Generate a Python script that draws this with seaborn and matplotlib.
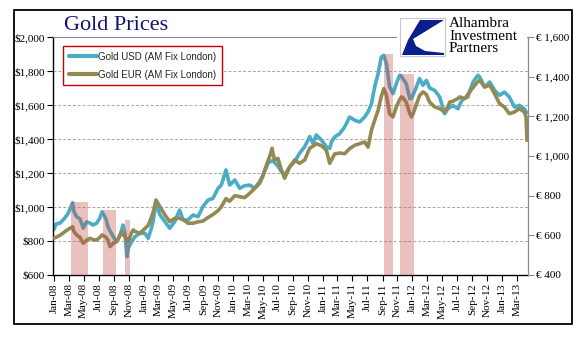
import matplotlib
matplotlib.use('Agg')
import matplotlib.pyplot as plt
import matplotlib.dates as mdates
from matplotlib.lines import Line2D
from matplotlib.patches import Rectangle, Polygon
from matplotlib.ticker import FuncFormatter
import pandas as pd
import seaborn as sns

# ---------------- data ----------------
dates = [
    '2008-01-02', '2008-01-09', '2008-01-25', '2008-02-11', '2008-02-27', '2008-03-17', '2008-03-22',
    '2008-04-02', '2008-04-16', '2008-04-29', '2008-05-13', '2008-05-27', '2008-06-08', '2008-06-23',
    '2008-07-06', '2008-07-15', '2008-07-31', '2008-08-08', '2008-08-16', '2008-08-30', '2008-09-12',
    '2008-09-22', '2008-10-03', '2008-10-08', '2008-10-16', '2008-10-24', '2008-10-30', '2008-11-13',
    '2008-11-19', '2008-11-26', '2008-12-16',
    '2009-01-06', '2009-01-19', '2009-02-02', '2009-02-09', '2009-02-20', '2009-03-08', '2009-03-28',
    '2009-04-17', '2009-05-07', '2009-05-27', '2009-06-10', '2009-06-30', '2009-07-21', '2009-08-10',
    '2009-08-30', '2009-09-20', '2009-10-10', '2009-10-31', '2009-11-13', '2009-12-02', '2009-12-17',
    '2010-01-07', '2010-01-27', '2010-02-16', '2010-03-09', '2010-03-29', '2010-04-18', '2010-05-02',
    '2010-05-09', '2010-05-22', '2010-05-29', '2010-06-08', '2010-06-12', '2010-06-19', '2010-07-02',
    '2010-07-16', '2010-07-29', '2010-08-19', '2010-09-08', '2010-09-28', '2010-10-19', '2010-11-08',
    '2010-11-22', '2010-12-05', '2010-12-26',
    '2011-01-15', '2011-01-29', '2011-02-05', '2011-02-18', '2011-03-10', '2011-03-31', '2011-04-20',
    '2011-05-11', '2011-05-31', '2011-06-20', '2011-07-04', '2011-07-18', '2011-07-31', '2011-08-14',
    '2011-08-20', '2011-08-27', '2011-09-06', '2011-09-17', '2011-09-30', '2011-10-14', '2011-10-27',
    '2011-11-10', '2011-11-17', '2011-11-23', '2011-12-07', '2011-12-21', '2011-12-28',
    '2012-01-03', '2012-01-17', '2012-01-30', '2012-02-13', '2012-02-27', '2012-03-11', '2012-04-01',
    '2012-04-21', '2012-05-11', '2012-05-25', '2012-06-01', '2012-06-14', '2012-06-21', '2012-07-05',
    '2012-07-11', '2012-07-25', '2012-08-01', '2012-08-14', '2012-08-21', '2012-09-04', '2012-09-11',
    '2012-09-24', '2012-10-01', '2012-10-08', '2012-10-21', '2012-11-11', '2012-12-01', '2012-12-21',
    '2013-01-10', '2013-01-30', '2013-02-20', '2013-03-12', '2013-04-01', '2013-04-08', '2013-04-12',
]

gold_usd = [
    870, 900, 905, 930, 960, 1025, 975, 943, 930, 876, 913, 905, 894, 905, 935, 972, 930, 884, 860, 825,
    796, 820, 865, 894, 850, 708, 760, 796, 810, 825, 845,
    845, 816, 880, 924, 1022, 953, 914, 875, 914, 982, 924, 924, 953, 943, 1002, 1041, 1051, 1110, 1129,
    1218, 1129,
    1159, 1110, 1125, 1129, 1110, 1149, 1188, 1210, 1257, 1265, 1270, 1276, 1260, 1240, 1208, 1188, 1237,
    1267, 1316, 1355, 1414, 1375, 1424, 1394,
    1355, 1345, 1384, 1412, 1431, 1471, 1529, 1510, 1500, 1529, 1559, 1608, 1706, 1784, 1830, 1882, 1892,
    1843, 1706, 1667, 1725, 1775, 1770, 1755, 1725, 1637, 1640,
    1657, 1706, 1755, 1716, 1745, 1700, 1686, 1647, 1549, 1578, 1585, 1598, 1590, 1578, 1600, 1637, 1640,
    1647, 1680, 1735, 1750, 1775, 1765, 1745, 1706, 1735, 1686, 1657,
    1676, 1647, 1588, 1598, 1578, 1559, 1555,
]

gold_eur = [
    586, 590, 600, 615, 630, 643, 620, 602, 590, 560, 575, 585, 578, 576, 590, 602, 590, 575, 543, 560,
    568, 590, 618, 605, 593, 580, 568, 615, 627, 620, 610,
    635, 650, 694, 720, 778, 744, 703, 669, 686, 686, 680, 661, 661, 668, 672, 690, 705, 725, 744, 785, 772,
    800, 795, 790, 812, 837, 862, 900, 929, 975, 997, 1039, 1010, 980, 988, 929, 888, 946, 980, 963, 980,
    1039, 1050, 1062, 1052,
    1030, 963, 980, 1010, 1015, 1012, 1037, 1054, 1062, 1071, 1045, 1130, 1180, 1230, 1264, 1300, 1340,
    1306, 1213, 1197, 1247, 1285, 1298, 1295, 1270, 1215, 1197,
    1210, 1260, 1305, 1323, 1310, 1272, 1247, 1239, 1222, 1250, 1272, 1276, 1281, 1290, 1298, 1292, 1289,
    1310, 1323, 1345, 1357, 1375, 1382, 1370, 1348, 1357, 1314, 1264,
    1247, 1213, 1222, 1239, 1222, 1197, 1079,
]

shade_start = ['2008-03-10', '2008-07-19', '2008-10-16', '2011-09-06', '2011-11-10']
shade_end = ['2008-05-19', '2008-09-10', '2008-11-06', '2011-10-12', '2012-01-06']
shade_top_usd = [1030, 982, 924, 1898, 1784]

usd_ticks = [600, 800, 1000, 1200, 1400, 1600, 1800, 2000]
eur_ticks = [400, 600, 800, 1000, 1200, 1400, 1600]
label_usd = 'Gold USD (AM Fix London)'
label_eur = 'Gold EUR (AM Fix London)'
title = 'Gold Prices'
logo_text = 'Alhambra\nInvestment\nPartners'

# ---------------- styling ----------------
sns.set_theme(style='white')
plt.rcParams['font.family'] = ['Liberation Serif', 'DejaVu Serif']

C_USD = '#4BACC6'
C_EUR = '#938953'
C_SHADE = '#C0504D'

W, H = 577, 341
fig = plt.figure(figsize=(W / 100, H / 100), dpi=100)
fig.patch.set_facecolor('white')


def fx(px):
    return px / W


def fy(py):
    return 1 - py / H


ax = fig.add_axes([fx(53), fy(275), fx(528) - fx(53), fy(37) - fy(275)])

df = pd.DataFrame({'date': pd.to_datetime(dates), 'usd': gold_usd, 'eur': gold_eur})

sns.lineplot(data=df, x='date', y='usd', ax=ax, color=C_USD, linewidth=2.6, legend=False)
ax2 = ax.twinx()
sns.lineplot(data=df, x='date', y='eur', ax=ax2, color=C_EUR, linewidth=2.6, legend=False)
ax3 = ax.twinx()
for s, e, t in zip(shade_start, shade_end, shade_top_usd):
    s0 = mdates.date2num(pd.Timestamp(s))
    e0 = mdates.date2num(pd.Timestamp(e))
    ax3.bar(s0, t - usd_ticks[0], width=e0 - s0, bottom=usd_ticks[0], align='edge',
            color=C_SHADE, alpha=0.35, linewidth=0)

xmin = mdates.date2num(pd.Timestamp('2007-12-28'))
xmax = mdates.date2num(pd.Timestamp('2013-04-16'))
for a in (ax, ax2, ax3):
    a.set_xlim(xmin, xmax)
    a.set_xlabel('')
    a.set_ylabel('')

ax.set_ylim(usd_ticks[0], usd_ticks[-1])
ax3.set_ylim(usd_ticks[0], usd_ticks[-1])
ax2.set_ylim(eur_ticks[0], eur_ticks[-1])
ax3.axis('off')

ax.set_yticks(usd_ticks)
ax.yaxis.set_major_formatter(FuncFormatter(lambda v, p: '${:,.0f}'.format(v)))
ax2.set_yticks(eur_ticks)
ax2.yaxis.set_major_formatter(FuncFormatter(lambda v, p: '\u20ac {:,.0f}'.format(v)))

months = pd.date_range('2008-01-01', '2013-03-01', freq='2MS')
ax.set_xticks(mdates.date2num(months))
ax.set_xticklabels([m.strftime('%b-%y') for m in months], rotation=90)

ax.yaxis.grid(True, linestyle=(0, (3, 2)), color='#A6A6A6', linewidth=0.7)
ax.xaxis.grid(False)
ax.set_axisbelow(True)

for sp in ax.spines.values():
    sp.set_visible(True)
ax.spines['left'].set_color('black')
ax.spines['left'].set_linewidth(1.0)
ax.spines['bottom'].set_color('black')
ax.spines['bottom'].set_linewidth(1.0)
ax.spines['top'].set_color('#8C8C8C')
ax.spines['top'].set_linewidth(0.8)
ax.spines['right'].set_visible(False)
for k in ('left', 'top', 'bottom'):
    ax2.spines[k].set_visible(False)
ax2.spines['right'].set_visible(True)
ax2.spines['right'].set_color('#8C8C8C')
ax2.spines['right'].set_linewidth(0.9)

ax.tick_params(axis='x', bottom=True, direction='out', length=4, width=0.8, color='black',
               labelsize=8, labelcolor='black', pad=2)
ax.tick_params(axis='y', left=True, direction='out', length=4, width=0.8, color='black',
               labelsize=8, labelcolor='black', pad=2)
ax2.tick_params(axis='y', right=True, direction='out', length=4, width=0.8, color='#8C8C8C',
                labelsize=8, labelcolor='black', pad=2)

# title
fig.text(fx(64), fy(26), title, fontsize=16, color='#12126E', ha='left', va='center',
         family=['Liberation Serif'])

# legend
handles = [Line2D([], [], color=C_USD, linewidth=3.0), Line2D([], [], color=C_EUR, linewidth=3.0)]
leg = fig.legend(handles, [label_usd, label_eur], loc='upper left', bbox_to_anchor=(fx(63), fy(46)),
                 frameon=True, fancybox=False, framealpha=1, edgecolor='#C00000',
                 prop={'family': 'Liberation Sans', 'size': 7}, handlelength=2.9, handletextpad=0.1,
                 labelspacing=0.8, borderpad=0.6, borderaxespad=0)
leg.get_frame().set_linewidth(1.0)

# logo
fig.patches.append(Rectangle((fx(397), fy(59)), fx(527) - fx(397), fy(15) - fy(59),
                             transform=fig.transFigure, facecolor='white', edgecolor='none', zorder=5))
fig.patches.append(Rectangle((fx(400), fy(56)), fx(445) - fx(400), fy(18) - fy(56),
                             transform=fig.transFigure, facecolor='white', edgecolor='#C8C8C8',
                             linewidth=0.8, zorder=6))
logo_pts = [(420, 20), (444, 20), (413, 39), (416, 46), (425, 51), (444, 53), (444, 55), (402, 55),
            (408, 40)]
fig.patches.append(Polygon([(fx(x), fy(y)) for x, y in logo_pts], closed=True, transform=fig.transFigure,
                           facecolor='#0A1E8C', edgecolor='none', zorder=7))
fig.text(fx(449), fy(17), logo_text, fontsize=11, color='black', ha='left', va='top', linespacing=0.95,
         family=['Liberation Serif'], zorder=8)

# outer frame
fig.patches.append(Rectangle((fx(14), fy(324)), fx(572) - fx(14), fy(10) - fy(324), transform=fig.transFigure,
                             fill=False, edgecolor='black', linewidth=1.3, zorder=9))

fig.savefig('out.png', dpi=100, facecolor='white')
